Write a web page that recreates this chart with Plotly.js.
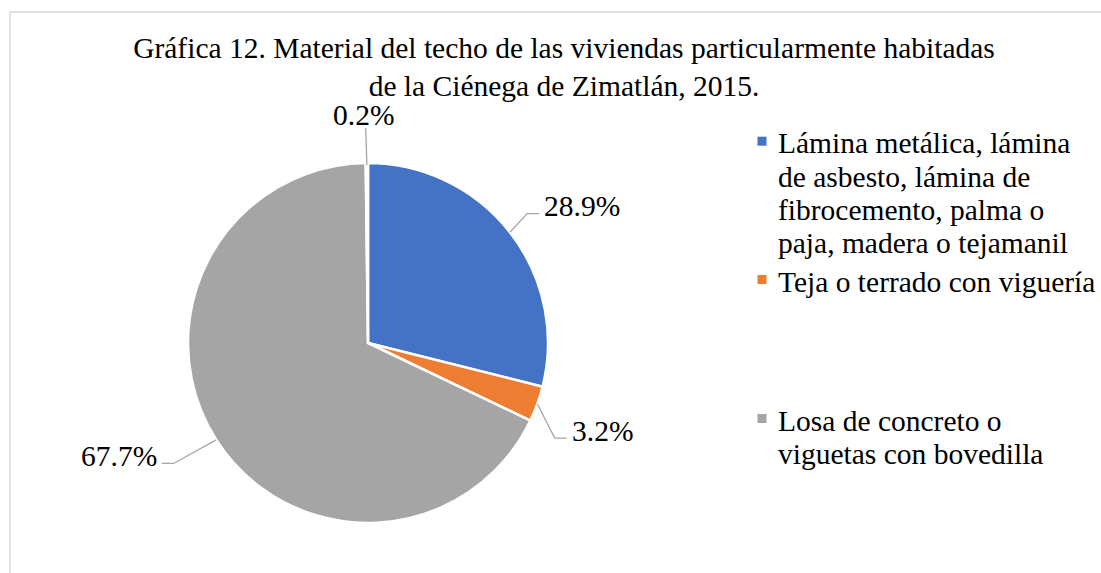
<!DOCTYPE html>
<html>
<head>
<meta charset="utf-8">
<script src="https://cdn.plot.ly/plotly-3.0.1.min.js"></script>
<style>html,body{margin:0;padding:0;background:#fff;}#chart{width:1101px;height:573px;}</style>
</head>
<body>
<div id="chart"></div>
<script>
// ---- Data ----
const categories = [
  "Lámina metálica, lámina<br>de asbesto, lámina de<br>fibrocemento, palma o<br>paja, madera o tejamanil",
  "Teja o terrado con viguería",
  "Losa de concreto o<br>viguetas con bovedilla",
  "No especificado"
];
const values = [28.9, 3.2, 67.7, 0.2];
const colors = ["#4472C4", "#ED7D31", "#A5A5A5", "#FFC000"];
const legendShown = [0, 1, 2];
const titleText = "Gráfica 12. Material del techo de las viviendas particularmente habitadas<br>de la Ciénega de Zimatlán, 2015.";

// ---- Layout config (pixels) ----
const W = 1101, H = 573;
const C = {x: 368, y: 343}, R = 180;
const elbowScale = 1.15;
const labelNudge = [{dx: -4, dy: -2}, {dx: -8, dy: 25}, {dx: -20, dy: 9}, {dx: -1, dy: -8}];
const legendBaselines = [151.7, 290, 429];
const legendLine = 33.3;
const legendTextX = 776, legendMarkX = 762, legendMark = 9;
const FONT = "Liberation Serif, Times New Roman, serif";
const FS = 29.5;
const HALF = 8.5; // baseline -> middle of text box

const px = x => x / W;
const py = y => 1 - y / H;

const total = values.reduce((a, b) => a + b, 0);
const shapes = [{
  type: 'rect', xref: 'paper', yref: 'paper',
  x0: px(10), y0: py(12), x1: px(W + 20), y1: py(H + 20),
  line: {color: '#D9D9D9', width: 1.5}, fillcolor: 'rgba(0,0,0,0)', layer: 'below'
}];
const annotations = [];
const txtFont = {family: FONT, size: FS, color: '#000'};

// percentage labels with leader lines
let cum = 0;
values.forEach((v, i) => {
  const th = 2 * Math.PI * (cum + v / 2) / total;
  cum += v;
  const s = Math.sin(th), c = Math.cos(th);
  const ex = C.x + R * s, ey = C.y - R * c;
  const kx = C.x + R * elbowScale * s + labelNudge[i].dx;
  const ky = C.y - R * elbowScale * c + labelNudge[i].dy;
  const txt = (v / total * 100).toFixed(1) + '%';
  if (Math.abs(s) < 0.2) {
    shapes.push({type: 'path', xref: 'paper', yref: 'paper',
      path: `M${px(ex)},${py(ey + 2)} L${px(kx)},${py(ky)}`,
      line: {color: '#A6A6A6', width: 1.3}});
    annotations.push({xref: 'paper', yref: 'paper', x: px(kx - 2), y: py(ky - 5 - HALF),
      xanchor: 'center', yanchor: 'middle', text: txt, showarrow: false, font: txtFont});
  } else {
    const side = s > 0 ? 1 : -1;
    const hx = kx + side * 12;
    shapes.push({type: 'path', xref: 'paper', yref: 'paper',
      path: `M${px(ex)},${py(ey)} L${px(kx)},${py(ky)} L${px(hx)},${py(ky)}`,
      line: {color: '#A6A6A6', width: 1.3}});
    annotations.push({xref: 'paper', yref: 'paper', x: px(hx + side * 3), y: py(ky + 1 - HALF),
      xanchor: side > 0 ? 'left' : 'right', yanchor: 'middle', text: txt, showarrow: false, font: txtFont});
  }
});

// legend (one text row per line to keep the original tight line spacing)
legendShown.forEach((ci, k) => {
  const base = legendBaselines[k];
  const my = base - 10.5;
  shapes.push({type: 'rect', xref: 'paper', yref: 'paper',
    x0: px(legendMarkX - legendMark / 2), x1: px(legendMarkX + legendMark / 2),
    y0: py(my + legendMark / 2), y1: py(my - legendMark / 2),
    fillcolor: colors[ci], line: {width: 0}});
  categories[ci].split('<br>').forEach((line, j) => {
    annotations.push({xref: 'paper', yref: 'paper', x: px(legendTextX), y: py(base + j * legendLine - HALF),
      xanchor: 'left', yanchor: 'middle', text: line, showarrow: false, font: txtFont});
  });
});

const trace = {
  type: 'pie',
  labels: categories,
  values: values,
  sort: false,
  direction: 'clockwise',
  rotation: 0,
  textinfo: 'none',
  hoverinfo: 'label+percent',
  showlegend: false,
  marker: {colors: colors, line: {color: '#FFFFFF', width: 2.5}},
  domain: {x: [px(C.x - R), px(C.x + R)], y: [py(C.y + R), py(C.y - R)]}
};

const layout = {
  width: W, height: H,
  margin: {l: 0, r: 0, t: 0, b: 0},
  paper_bgcolor: '#fff', plot_bgcolor: '#fff',
  title: {text: titleText, x: px(564), xanchor: 'center', y: py(58), yanchor: 'top', yref: 'container',
    font: {family: FONT, size: FS, color: '#000'}},
  showlegend: false,
  shapes: shapes,
  annotations: annotations
};

Plotly.newPlot('chart', [trace], layout, {displayModeBar: false, staticPlot: true});
</script>
</body>
</html>
